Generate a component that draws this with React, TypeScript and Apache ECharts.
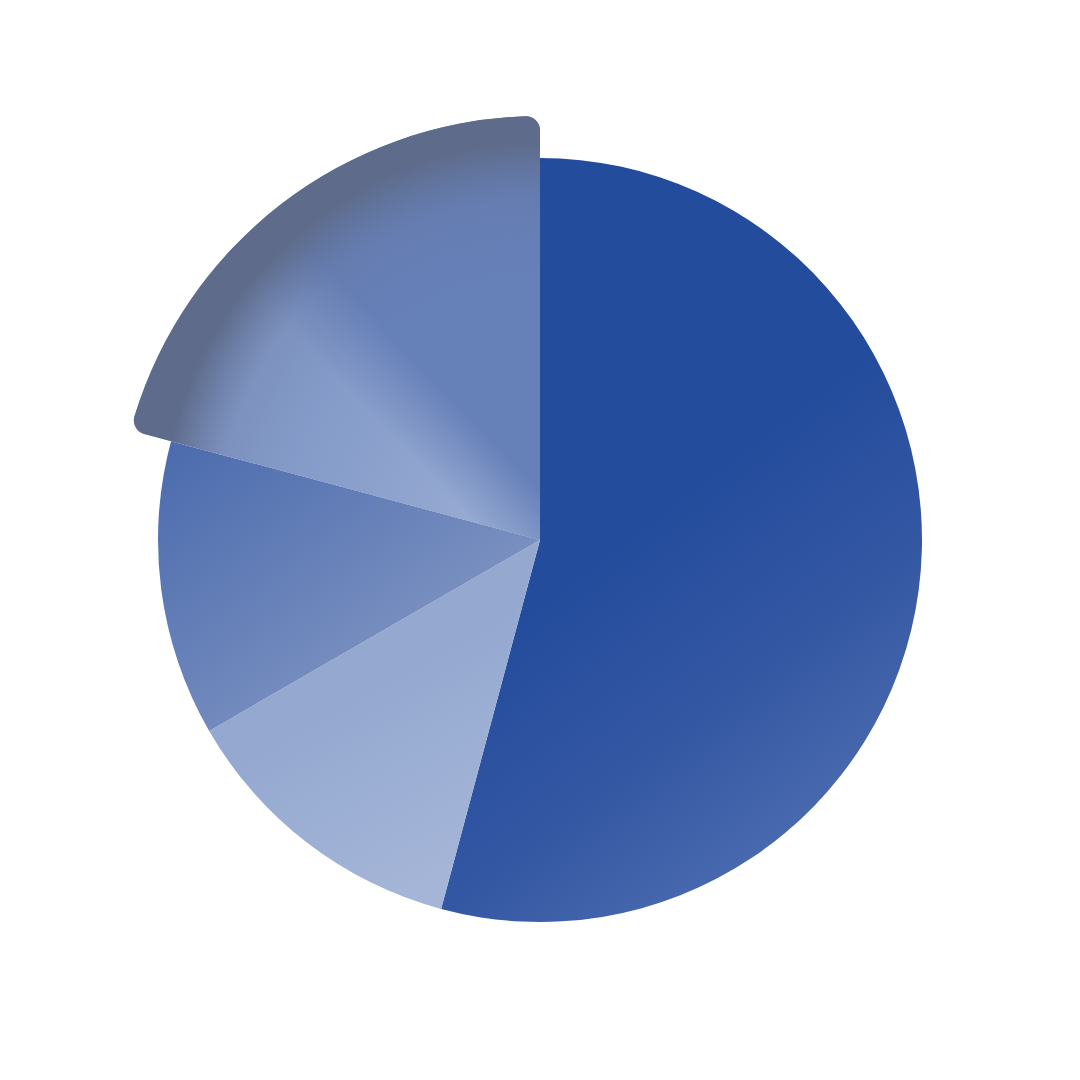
import React, { useEffect, useRef } from "react";
import * as echarts from "echarts";

// ---- data ----
const categories = ["A", "B", "C", "D"];
const values = [52, 12, 12, 20];
const highlightIndex = 3;

// ---- styles (kept apart from data) ----
const sliceFills: any[] = [
  {
    type: "linear", x: 0, y: 0, x2: 0.48, y2: 1,
    colorStops: [
      { offset: 0, color: "#234c9c" },
      { offset: 0.55, color: "#234c9c" },
      { offset: 0.8, color: "#3457a3" },
      { offset: 1, color: "#4869ae" },
    ],
  },
  {
    type: "linear", x: 0, y: 0, x2: 0.5, y2: 1,
    colorStops: [
      { offset: 0, color: "#93a7cf" },
      { offset: 0.5, color: "#94a8d0" },
      { offset: 1, color: "#a4b5d7" },
    ],
  },
  {
    type: "linear", x: 0, y: 0, x2: 1, y2: 1,
    colorStops: [
      { offset: 0, color: "#4a6aad" },
      { offset: 1, color: "#90a2c9" },
    ],
  },
  "#8a9fcb",
];

const highlightFill = {
  type: "linear", x: 1, y: 0, x2: 0, y2: 1,
  colorStops: [
    { offset: 0, color: "#6680b8" },
    { offset: 0.44, color: "#6680b8" },
    { offset: 0.56, color: "#95a9d1" },
    { offset: 1, color: "#95a9d1" },
  ],
};

const highlightRim = {
  type: "radial", x: 1, y: 1, r: 1,
  colorStops: [
    { offset: 0, color: "rgba(102,128,184,0)" },
    { offset: 0.2, color: "rgba(102,128,184,0)" },
    { offset: 0.62, color: "rgba(102,128,184,0.35)" },
    { offset: 0.8, color: "rgba(100,122,170,0.5)" },
    { offset: 0.94, color: "rgba(94,107,138,1)" },
    { offset: 1, color: "rgba(94,107,138,1)" },
  ],
};

const hidden = "rgba(0,0,0,0)";

export default function App() {
  const ref = useRef<HTMLDivElement>(null);

  useEffect(() => {
    if (!ref.current) return;
    const chart = echarts.init(ref.current, null, { renderer: "svg" });

    const common = {
      type: "pie",
      center: ["50%", "50%"],
      startAngle: 90,
      clockwise: true,
      silent: true,
      label: { show: false },
      labelLine: { show: false },
      emphasis: { disabled: true },
    };

    const baseData = categories.map((name, i) => ({
      name,
      value: values[i],
      itemStyle: { color: sliceFills[i], borderWidth: 0 },
    }));

    const overlayData = (fill: any) =>
      categories.map((name, i) => ({
        name,
        value: values[i],
        itemStyle:
          i === highlightIndex
            ? { color: fill, borderWidth: 0, borderRadius: 14 }
            : { color: hidden, borderWidth: 0 },
      }));

    chart.setOption({
      animation: false,
      backgroundColor: "#ffffff",
      series: [
        { ...common, radius: 382, data: baseData, z: 1 },
        { ...common, radius: 424, data: overlayData(highlightFill), z: 2 },
        { ...common, radius: 424, data: overlayData(highlightRim), z: 3 },
      ],
    });

    return () => chart.dispose();
  }, []);

  return (
    <div
      ref={ref}
      style={{ position: "fixed", left: 0, top: 0, width: 1080, height: 1080 }}
    />
  );
}
